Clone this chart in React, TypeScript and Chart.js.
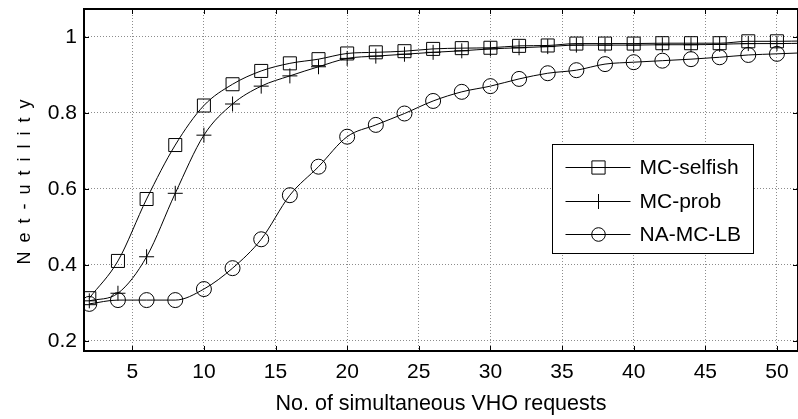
import React, { useEffect, useRef } from 'react';
import { Chart, registerables } from 'chart.js';

Chart.register(...registerables);

// ---- data ----
const xValues = [2, 4, 6, 8, 10, 12, 14, 16, 18, 20, 22, 24, 26, 28, 30, 32, 34, 36, 38, 40, 42, 44, 46, 48, 50, 52];
const mcSelfish = [0.312, 0.41, 0.573, 0.715, 0.819, 0.875, 0.91, 0.93, 0.941, 0.956, 0.959, 0.962, 0.968, 0.97, 0.971, 0.976, 0.977, 0.982, 0.982, 0.982, 0.983, 0.983, 0.983, 0.988, 0.988, 0.989];
const mcProb = [0.305, 0.325, 0.421, 0.588, 0.741, 0.823, 0.87, 0.897, 0.921, 0.943, 0.949, 0.954, 0.959, 0.963, 0.968, 0.971, 0.974, 0.978, 0.978, 0.978, 0.979, 0.979, 0.98, 0.982, 0.982, 0.983];
const naMcLb = [0.297, 0.307, 0.307, 0.307, 0.336, 0.391, 0.467, 0.583, 0.658, 0.737, 0.768, 0.798, 0.831, 0.855, 0.87, 0.889, 0.904, 0.912, 0.928, 0.933, 0.937, 0.941, 0.946, 0.952, 0.955, 0.958];
const seriesLabels = ['MC-selfish', 'MC-prob', 'NA-MC-LB'];
const seriesMarkers = ['rect', 'cross', 'circle'];
const xTicks = [5, 10, 15, 20, 25, 30, 35, 40, 45, 50];
const yTicks = [0.2, 0.4, 0.6, 0.8, 1];
const xTitle = 'No. of simultaneous VHO requests';
const yTitle = 'Net-utility';
const lastMarkedX = 50;
const xRange = [1.63, 51.47];
const yRange = [0.173, 1.073];

const FONT = 'Arial, "Liberation Sans", Helvetica, sans-serif';
const markerRadius: Record<string, number> = { rect: 9.2, cross: 7.5, circle: 7.5 };

function drawMarker(ctx: CanvasRenderingContext2D, style: string, x: number, y: number) {
  ctx.beginPath();
  if (style === 'rect') {
    const s = 6.6;
    ctx.rect(x - s, y - s, 2 * s, 2 * s);
  } else if (style === 'cross') {
    const r = 7.5;
    ctx.moveTo(x - r, y);
    ctx.lineTo(x + r, y);
    ctx.moveTo(x, y - r);
    ctx.lineTo(x, y + r);
  } else {
    ctx.arc(x, y, 6.8, 0, Math.PI * 2);
  }
  ctx.stroke();
}

const decorPlugin = {
  id: 'decor',
  afterDatasetsDraw(chart: any) {
    const { ctx, chartArea } = chart;
    const { left, right, top, bottom } = chartArea;
    const xs = chart.scales.x;
    const ys = chart.scales.y;
    ctx.save();
    ctx.strokeStyle = '#000';
    ctx.lineWidth = 1;
    const tl = 5;
    ctx.beginPath();
    xTicks.forEach((v) => {
      const px = Math.round(xs.getPixelForValue(v)) + 0.5;
      ctx.moveTo(px, bottom);
      ctx.lineTo(px, bottom - tl);
      ctx.moveTo(px, top);
      ctx.lineTo(px, top + tl);
    });
    yTicks.forEach((v) => {
      const py = Math.round(ys.getPixelForValue(v)) + 0.5;
      ctx.moveTo(left, py);
      ctx.lineTo(left + tl, py);
      ctx.moveTo(right, py);
      ctx.lineTo(right - tl, py);
    });
    ctx.stroke();
    // frame
    ctx.lineWidth = 2;
    ctx.beginPath();
    ctx.moveTo(left, top);
    ctx.lineTo(right, top);
    ctx.moveTo(right, top);
    ctx.lineTo(right, bottom);
    ctx.stroke();

    // legend
    const bx = Math.round(right - 246) + 0.5;
    const by = Math.round(top + 135) + 0.5;
    const bw = 201;
    const bh = 109;
    ctx.fillStyle = '#fff';
    ctx.fillRect(bx, by, bw, bh);
    ctx.lineWidth = 1;
    ctx.strokeRect(bx, by, bw, bh);
    const rows = [23, 57, 90];
    ctx.font = `21px ${FONT}`;
    ctx.textBaseline = 'middle';
    ctx.textAlign = 'left';
    ctx.fillStyle = '#000';
    seriesLabels.forEach((lab, i) => {
      const y = by + rows[i];
      ctx.beginPath();
      ctx.moveTo(bx + 13, y);
      ctx.lineTo(bx + 78, y);
      ctx.stroke();
      drawMarker(ctx, seriesMarkers[i], bx + 46, y);
      ctx.fillText(lab, bx + 87, y + 1);
    });
    ctx.restore();
  },
  afterDraw(chart: any) {
    const { ctx, chartArea } = chart;
    ctx.save();
    ctx.font = `18px ${FONT}`;
    ctx.fillStyle = '#000';
    const spacing = 9;
    (ctx as any).letterSpacing = '0px';
    const w0 = ctx.measureText(yTitle).width;
    const total = w0 + spacing * (yTitle.length - 1);
    (ctx as any).letterSpacing = spacing + 'px';
    ctx.translate(25, (chartArea.top + chartArea.bottom) / 2 + 2);
    ctx.rotate(-Math.PI / 2);
    ctx.textAlign = 'left';
    ctx.textBaseline = 'middle';
    ctx.fillText(yTitle, -total / 2, 0);
    ctx.restore();
  },
};

export default function App() {
  const ref = useRef<HTMLCanvasElement | null>(null);
  useEffect(() => {
    const canvas = ref.current;
    if (!canvas) return;
    const series = [mcSelfish, mcProb, naMcLb];
    const chart = new Chart(canvas, {
      type: 'line',
      data: {
        datasets: series.map((arr, i) => ({
          label: seriesLabels[i],
          data: xValues.map((x, j) => ({ x, y: arr[j] })),
          borderColor: '#000',
          borderWidth: 1,
          pointStyle: seriesMarkers[i] as any,
          pointRadius: (c: any) => (xValues[c.dataIndex] <= lastMarkedX ? markerRadius[seriesMarkers[i]] : 0),
          pointBorderColor: '#000',
          pointBackgroundColor: 'rgba(0,0,0,0)',
          pointBorderWidth: 1,
          cubicInterpolationMode: 'monotone' as const,
          fill: false,
        })),
      },
      options: {
        responsive: false,
        animation: false,
        events: [],
        layout: { autoPadding: false, padding: { top: 9, right: 0, left: 0, bottom: 0 } },
        plugins: { legend: { display: false }, tooltip: { enabled: false } },
        scales: {
          x: {
            type: 'linear',
            min: xRange[0],
            max: xRange[1],
            afterBuildTicks: (s: any) => {
              s.ticks = xTicks.map((v) => ({ value: v }));
            },
            afterFit: (s: any) => {
              s.height = 68;
              s.paddingLeft = 0;
              s.paddingRight = 0;
              s.paddingTop = 0;
              s.paddingBottom = 0;
            },
            ticks: {
              font: { family: FONT, size: 21 },
              color: '#000',
              padding: 9,
              maxRotation: 0,
              autoSkip: false,
              callback: (v: any) => String(v),
            },
            grid: { color: '#8c8c8c', lineWidth: 1, drawTicks: false },
            border: { display: true, color: '#000', width: 2, dash: [1, 2] },
            title: {
              display: true,
              text: xTitle,
              font: { family: FONT, size: 21.5 },
              color: '#000',
              padding: { top: 0, bottom: 2 },
            },
          },
          y: {
            type: 'linear',
            min: yRange[0],
            max: yRange[1],
            afterBuildTicks: (s: any) => {
              s.ticks = yTicks.map((v) => ({ value: v }));
            },
            afterFit: (s: any) => {
              s.width = 84;
              s.paddingLeft = 0;
              s.paddingRight = 0;
              s.paddingTop = 0;
              s.paddingBottom = 0;
            },
            ticks: {
              font: { family: FONT, size: 21 },
              color: '#000',
              padding: 7,
              callback: (v: any) => String(v),
            },
            grid: { color: '#8c8c8c', lineWidth: 1, drawTicks: false },
            border: { display: true, color: '#000', width: 2, dash: [1, 2] },
          },
        },
      },
      plugins: [decorPlugin],
    });
    return () => chart.destroy();
  }, []);
  return (
    <div style={{ position: 'absolute', left: 0, top: 0, width: 798, height: 419, background: '#fff' }}>
      <canvas ref={ref} width={798} height={419} style={{ display: 'block' }} />
    </div>
  );
}
